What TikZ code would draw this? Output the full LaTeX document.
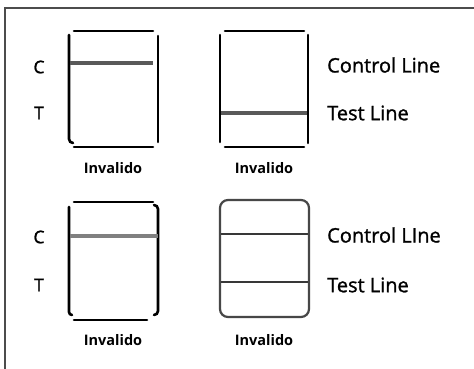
\documentclass[tikz,border=0pt]{standalone}
\usepackage{fontspec}
\setmainfont{Open Sans}
\newfontfamily\labfont{Open Sans}[FakeBold=1.2]
\begin{document}
\begin{tikzpicture}[x=1pt,y=-1pt,
  frame/.style={draw=black!70,line width=1.8pt},
  side/.style={draw=black,line width=2.6pt,line cap=round},
  band/.style={draw=black!65,line width=3.4pt},
  lband/.style={draw=black!50,line width=3.8pt},
  dband/.style={draw=black!78,line width=2.8pt},
  ltr/.style={font=\labfont\fontsize{17.5}{20}\selectfont,text=black,inner sep=0pt},
  lab/.style={font=\labfont\fontsize{20}{24}\selectfont,text=black,inner sep=0pt,anchor=west},
  inv/.style={font=\bfseries\fontsize{14.5}{17}\selectfont,text=black,inner sep=0pt}]
\useasboundingbox (0,0) rectangle (474,369);
\fill[white] (0,0) rectangle (474,369);
% outer frame (cropped at right and bottom)
\begin{scope}
\clip (0,0) rectangle (474,369);
\draw[frame] (5,380) -- (5,8) -- (490,8);
\end{scope}
% strip 1
\draw[side] (74,31) -- (153,31);
\draw[side] (74,147) -- (153,147);
\draw[side] (69,35) -- (69,139) to[out=-90,in=180] (73,143);
\draw[side] (158,36) -- (158,142);
\draw[band] (70,63) -- (153,63);
% strip 2
\draw[side] (225,31) -- (304,31);
\draw[side] (225,147) -- (304,147);
\draw[side] (220,35) -- (220,142);
\draw[side] (308,35) -- (308,143);
\draw[band] (221,113) -- (307,113);
% strip 3
\draw[side] (74,202) -- (153,202);
\draw[side] (74,320) -- (147,320);
\draw[side] (69,207) -- (69,312) to[out=-90,in=180] (72,315);
\draw[side] (154,205) to[out=0,in=90] (158,209) -- (158,311) to[out=-90,in=0] (154,315);
\draw[lband] (70,236) -- (158,236);
% strip 4
\draw[draw=black!72,line width=2.2pt,rounded corners=8pt] (220,200) rectangle (309,317);
\draw[dband] (221,234) -- (308,234);
\draw[dband] (221,282) -- (308,282);
% letters
\node[ltr] (c1) at (39,67) {C};
\node[ltr] (t1) at (39,113) {T};
\node[ltr] (c2) at (39,237) {C};
\node[ltr] (t2) at (39,285) {T};
% right labels
\node[lab] (cl1) at (327,65) {Control Line};
\node[lab] (tl1) at (327,113) {Test Line};
\node[lab] (cl2) at (327,235) {Control LIne};
\node[lab] (tl2) at (327,285) {Test Line};
% captions
\node[inv] (i1) at (113,168) {Invalido};
\node[inv] (i2) at (264,168) {Invalido};
\node[inv] (i3) at (113,340) {Invalido};
\node[inv] (i4) at (264,340) {Invalido};
\end{tikzpicture}
\end{document}
